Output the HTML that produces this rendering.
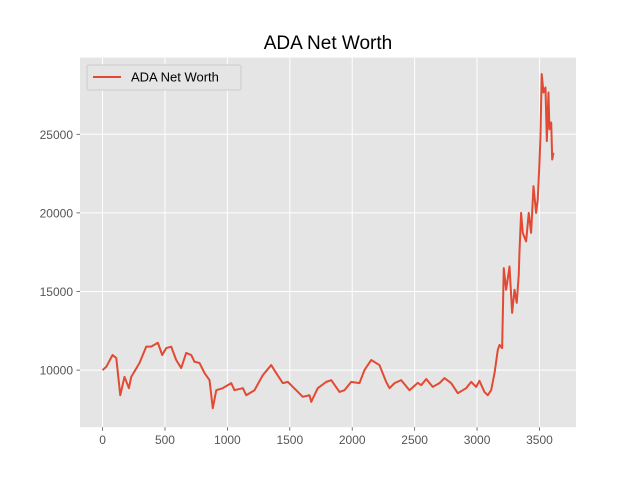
<!DOCTYPE html>
<html><head><meta charset="utf-8"><style>
body{margin:0;background:#fff;}
svg text{font-family:"Liberation Sans","DejaVu Sans",sans-serif;}
</style></head><body>
<svg id="chart" width="640" height="480" xmlns="http://www.w3.org/2000/svg">
<rect x="0" y="0" width="640" height="480" fill="#fff"/>
<rect x="80" y="57.6" width="496" height="369.6" fill="#e5e5e5"/>
<g id="grid"></g>
<g id="ticks"></g>
<g id="series"></g>
<text x="328" y="49" font-size="19" text-anchor="middle" fill="#000">ADA Net Worth</text>
<g>
<rect x="87" y="65" width="154" height="25" fill="#e5e5e5" stroke="#ccc" stroke-width="1" rx="2"/>
<line x1="93" y1="77" x2="121" y2="77" stroke="#e24a33" stroke-width="2"/>
<text x="131" y="81.5" font-size="13" fill="#000">ADA Net Worth</text>
</g>
</svg>
<script>
const xVals=[0,30,80,110,142,176,211,230,296,350,390,443,478,510,550,590,630,670,710,737,777,817,857,883,911,963,1031,1057,1124,1151,1217,1284,1351,1391,1444,1484,1551,1604,1658,1672,1724,1792,1832,1898,1938,1992,2058,2098,2152,2218,2272,2299,2339,2392,2459,2525,2553,2593,2645,2699,2739,2793,2846,2913,2953,2993,3019,3059,3086,3113,3140,3166,3180,3201,3206,3214,3233,3260,3281,3300,3318,3334,3340,3353,3366,3393,3414,3433,3452,3473,3486,3500,3508,3518,3532,3548,3559,3572,3580,3594,3602,3612];
const netWorth=[10000,10210,10960,10770,8400,9570,8850,9570,10450,11490,11490,11740,10960,11400,11490,10640,10130,11090,10960,10530,10450,9810,9360,7570,8720,8850,9170,8720,8850,8400,8720,9680,10320,9810,9170,9250,8720,8300,8400,7980,8850,9250,9360,8610,8720,9250,9170,10000,10640,10320,9250,8850,9170,9360,8720,9190,9040,9430,8930,9170,9490,9170,8530,8850,9250,8930,9320,8610,8400,8720,9810,11280,11600,11400,13400,16490,15110,16590,13640,15110,14280,16060,17550,20000,18730,18190,20000,18730,21700,20000,20850,23190,24890,28830,27660,27980,24570,27660,25320,25750,23400,23830];
const xTicks=[0,500,1000,1500,2000,2500,3000,3500];
const yTicks=[10000,15000,20000,25000];
const NS="http://www.w3.org/2000/svg";
const X0=80,X1=576,Y0=57.6,Y1=427.2;
const xMin=-180.6,xMax=3792.6,yMin=6367,yMax=29880;
function sx(v){return X0+(v-xMin)/(xMax-xMin)*(X1-X0);}
function sy(v){return Y1-(v-yMin)/(yMax-yMin)*(Y1-Y0);}
const grid=document.getElementById('grid'),ticks=document.getElementById('ticks');
function mk(tag,attrs,parent){const e=document.createElementNS(NS,tag);for(const k in attrs)e.setAttribute(k,attrs[k]);parent.appendChild(e);return e;}
xTicks.forEach(t=>{
 const g=mk('line',{x1:sx(t),x2:sx(t),y1:Y0,y2:Y1,stroke:'#fff','stroke-width':1},grid);
 
 
 const tk=mk('line',{x1:sx(t),x2:sx(t),y1:Y1,y2:Y1+3.5,stroke:'#555','stroke-width':0.8},ticks);
 
 
 const lb=mk('text',{x:sx(t),y:Y1+17,'font-size':12,'text-anchor':'middle',fill:'#555'},ticks);
 lb.textContent=t;
 
 
});
yTicks.forEach(t=>{
 const g=mk('line',{x1:X0,x2:X1,y1:sy(t),y2:sy(t),stroke:'#fff','stroke-width':1},grid);
 
 
 const tk=mk('line',{x1:X0-3.5,x2:X0,y1:sy(t),y2:sy(t),stroke:'#555','stroke-width':0.8},ticks);
 
 
 const lb=mk('text',{x:X0-7,y:sy(t)+4.5,'font-size':12,'text-anchor':'end',fill:'#555'},ticks);
 lb.textContent=t;
 
 
});
const d=xVals.map((x,i)=>(i?'L':'M')+sx(x).toFixed(2)+' '+sy(netWorth[i]).toFixed(2)).join(' ');
const p=mk('path',{d:d,fill:'none',stroke:'#e24a33','stroke-width':2,'stroke-linejoin':'round'},document.getElementById('series'));


</script>
</body></html>
